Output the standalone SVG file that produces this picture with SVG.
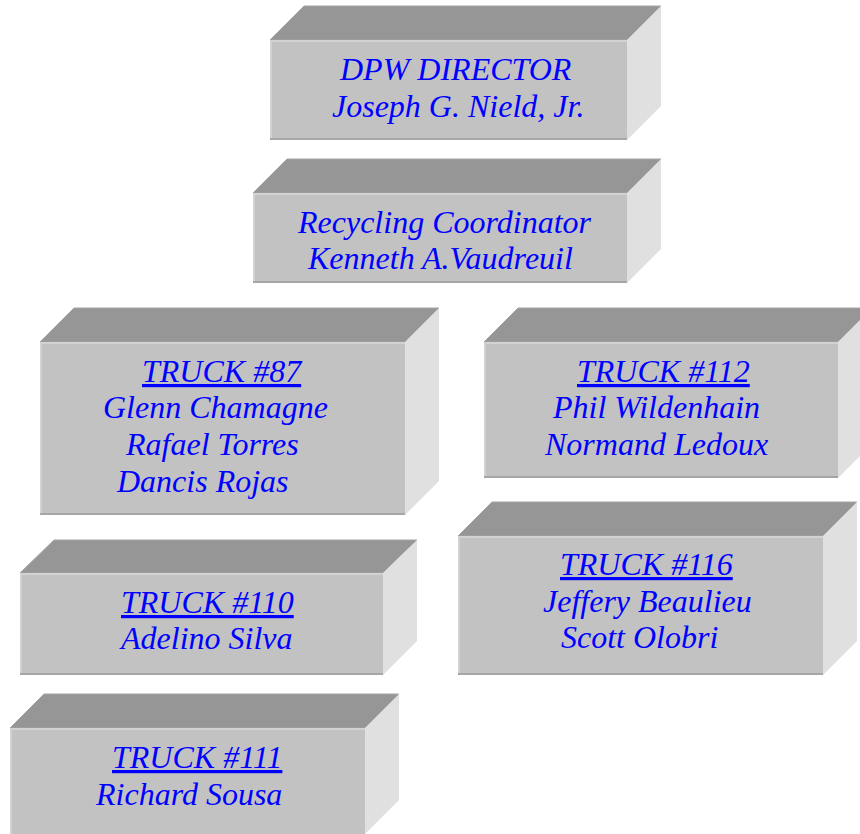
<svg xmlns="http://www.w3.org/2000/svg" width="860" height="834" viewBox="0 0 860 834">
<style>
.top{fill:#969696;stroke:#a4a4a4;stroke-width:1}
.side{fill:#e0e0e0}
.front{fill:#c2c2c2}
.hl{stroke:#d2d2d2;stroke-width:2;fill:none}
.sh{stroke:#a6a6a6;stroke-width:2;fill:none}
text{font-family:"Liberation Serif","Times New Roman",serif;font-style:italic;font-size:32px;fill:#0000ff}
.u{text-decoration:underline}
</style>
<rect width="860" height="834" fill="#ffffff"/>
<g id="connectors"/>
<g id="dpw-director">
<polygon class="top" points="270,40 304,6 661,6 627,40"/>
<polygon class="side" points="627,40 661,6 661,106 627,140"/>
<rect class="front" x="270" y="40" width="357" height="100"/>
<polyline class="hl" points="271,139 271,41 627,41"/>
<line class="sh" x1="270" y1="139" x2="627" y2="139"/>
<text x="340" y="80">DPW DIRECTOR</text>
<text x="332" y="117">Joseph G. Nield, Jr.</text>
</g>
<g id="recycling-coordinator">
<polygon class="top" points="253,193 287,159 661,159 627,193"/>
<polygon class="side" points="627,193 661,159 661,249 627,283"/>
<rect class="front" x="253" y="193" width="374" height="90"/>
<polyline class="hl" points="254,282 254,194 627,194"/>
<line class="sh" x1="253" y1="282" x2="627" y2="282"/>
<text x="298" y="233">Recycling Coordinator</text>
<text x="308" y="269">Kenneth A.Vaudreuil</text>
</g>
<g id="truck-87">
<polygon class="top" points="40,342 74,308 439,308 405,342"/>
<polygon class="side" points="405,342 439,308 439,481 405,515"/>
<rect class="front" x="40" y="342" width="365" height="173"/>
<polyline class="hl" points="41,514 41,343 405,343"/>
<line class="sh" x1="40" y1="514" x2="405" y2="514"/>
<text class="u" x="142" y="382">TRUCK #87</text>
<text x="103" y="418">Glenn Chamagne</text>
<text x="126" y="455">Rafael Torres</text>
<text x="117" y="492">Dancis Rojas</text>
</g>
<g id="truck-112">
<polygon class="top" points="484,342 518,308 872,308 838,342"/>
<polygon class="side" points="838,342 872,308 872,444 838,478"/>
<rect class="front" x="484" y="342" width="354" height="136"/>
<polyline class="hl" points="485,477 485,343 838,343"/>
<line class="sh" x1="484" y1="477" x2="838" y2="477"/>
<text class="u" x="577" y="382">TRUCK #112</text>
<text x="553" y="418">Phil Wildenhain</text>
<text x="545" y="455">Normand Ledoux</text>
</g>
<g id="truck-110">
<polygon class="top" points="20,573 54,540 417,540 383,573"/>
<polygon class="side" points="383,573 417,540 417,641 383,675"/>
<rect class="front" x="20" y="573" width="363" height="102"/>
<polyline class="hl" points="21,674 21,574 383,574"/>
<line class="sh" x1="20" y1="674" x2="383" y2="674"/>
<text class="u" x="121" y="613">TRUCK #110</text>
<text x="121" y="649">Adelino Silva</text>
</g>
<g id="truck-116">
<polygon class="top" points="458,536 492,502 857,502 823,536"/>
<polygon class="side" points="823,536 857,502 857,641 823,675"/>
<rect class="front" x="458" y="536" width="365" height="139"/>
<polyline class="hl" points="459,674 459,537 823,537"/>
<line class="sh" x1="458" y1="674" x2="823" y2="674"/>
<text class="u" x="560" y="575">TRUCK #116</text>
<text x="543" y="612">Jeffery Beaulieu</text>
<text x="561" y="648">Scott Olobri</text>
</g>
<g id="truck-111">
<polygon class="top" points="10,728 44,694 399,694 365,728"/>
<polygon class="side" points="365,728 399,694 399,800 365,834"/>
<rect class="front" x="10" y="728" width="355" height="106"/>
<polyline class="hl" points="11,834 11,729 365,729"/>
<text class="u" x="112" y="768">TRUCK #111</text>
<text x="96" y="805">Richard Sousa</text>
</g>
</svg>
